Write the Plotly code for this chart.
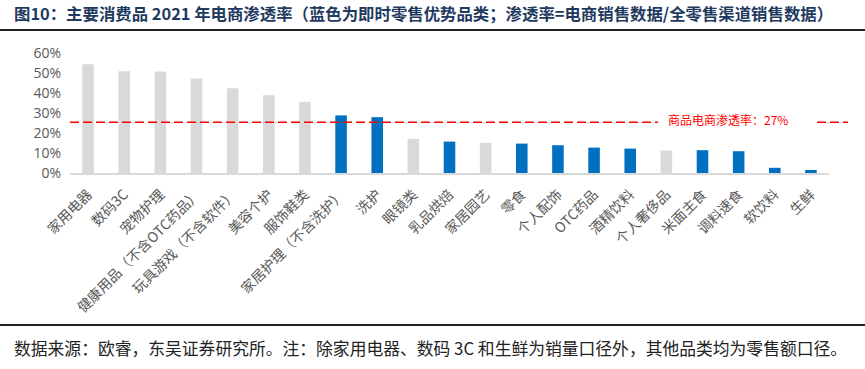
import plotly.graph_objects as go

categories = ["家用电器", "数码3C", "宠物护理", "健康用品（不含OTC药品）", "玩具游戏（不含软件）",
              "美容个护", "服饰鞋类", "家居护理（不含洗护）", "洗护", "眼镜类", "乳品烘焙",
              "家居园艺", "零食", "个人配饰", "OTC药品", "酒精饮料", "个人奢侈品", "米面主食",
              "调料速食", "软饮料", "生鲜"]
values = [54.4, 50.9, 50.7, 47.3, 42.4, 38.9, 35.6, 28.8, 27.9, 17.1, 15.7,
          15.1, 14.7, 13.9, 12.7, 12.2, 11.2, 11.4, 10.9, 2.6, 1.5]
instant_retail = [0, 0, 0, 0, 0, 0, 0, 1, 1, 0, 1, 0, 1, 1, 1, 1, 0, 1, 1, 1, 1]
avg_line_value = 25.4
avg_label = "商品电商渗透率：27%"
title_text = "图10：主要消费品 2021 年电商渗透率（蓝色为即时零售优势品类；渗透率=电商销售数据/全零售渠道销售数据）"
footer_text = "数据来源：欧睿，东吴证券研究所。注：除家用电器、数码 3C 和生鲜为销量口径外，其他品类均为零售额口径。"

BLUE = "#0070C0"
GRAY = "#D9D9D9"

W, H = 865, 369
L, R, T, B = 70, 36, 53, 196
PW, PH = W - L - R, H - T - B


def px(x):
    return (x - L) / PW


def py(y):
    return (H - B - y) / PH


colors = [BLUE if f else GRAY for f in instant_retail]

fig = go.Figure(go.Bar(x=categories, y=values, marker=dict(color=colors, line=dict(width=0)),
                       width=0.32, hoverinfo="x+y"))

fig.update_layout(
    width=W, height=H,
    margin=dict(l=L, r=R, t=T, b=B, autoexpand=False),
    plot_bgcolor="white", paper_bgcolor="white",
    showlegend=False,
    font=dict(family="Noto Sans CJK SC, Noto Sans, sans-serif", color="#595959"),
    title=dict(text="<b>" + title_text + "</b>", xref="container", yref="container",
               x=14 / W, xanchor="left", y=1 - 14 / H, yanchor="middle",
               font=dict(size=16.4, color="#1F3A5F", family="Noto Sans CJK SC")),
)
fig.update_xaxes(
    type="category", tickangle=-45, showline=True, linecolor="#D9D9D9", linewidth=1.5,
    showgrid=False, ticks="", tickfont=dict(size=14, color="#595959", family="Noto Sans CJK SC"),
    ticklabelstandoff=6, automargin=False, range=[-0.5, len(categories) - 0.5],
)
fig.update_yaxes(
    range=[0, 60], dtick=10, ticksuffix="%", showgrid=False, zeroline=False, showline=False,
    tickfont=dict(size=14, color="#595959", family="Open Sans"), ticklabelstandoff=8,
    automargin=False,
)

shapes = [
    dict(type="line", xref="paper", yref="paper", x0=px(0), x1=px(W), y0=py(30), y1=py(30),
         line=dict(color="#222222", width=2)),
    dict(type="line", xref="paper", yref="paper", x0=px(0), x1=px(W), y0=py(325), y1=py(325),
         line=dict(color="#222222", width=2)),
    dict(type="line", xref="paper", yref="y", x0=px(70), x1=px(658), y0=avg_line_value, y1=avg_line_value,
         line=dict(color="#FF0000", width=1.5, dash="9px,4px")),
    dict(type="line", xref="paper", yref="y", x0=px(817), x1=px(848), y0=avg_line_value, y1=avg_line_value,
         line=dict(color="#FF0000", width=1.5, dash="9px,4px")),
]
fig.update_layout(shapes=shapes)

fig.add_annotation(text=avg_label, xref="paper", yref="paper", x=px(728), y=py(119),
                   xanchor="center", yanchor="middle", showarrow=False,
                   font=dict(size=12, color="#FF0000", family="Noto Sans CJK SC"))
fig.add_annotation(text=footer_text, xref="paper", yref="paper", x=px(12), y=py(348),
                   xanchor="left", yanchor="middle", showarrow=False,
                   font=dict(size=16.8, color="#222222", family="Noto Sans CJK SC"))

fig.write_html("out.html", config={"displayModeBar": False},
               post_script="document.body.style.margin='0';document.body.style.overflow='hidden';")
